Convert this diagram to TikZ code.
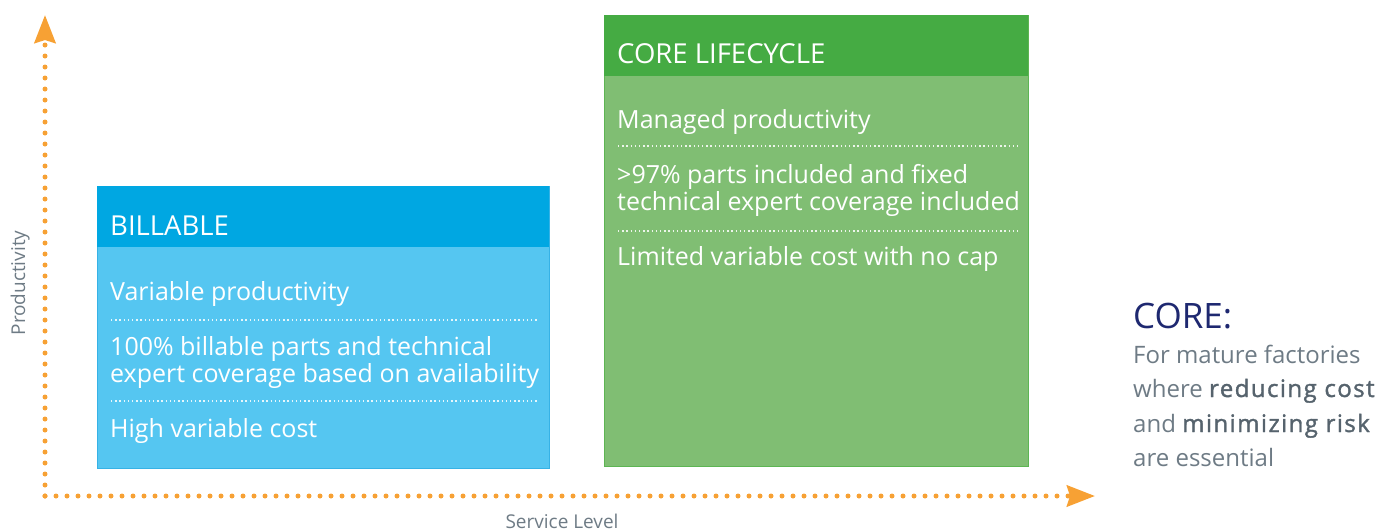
\documentclass[tikz,border=0pt]{standalone}
\usepackage{fontspec}
\setmainfont{Open Sans}
\newfontfamily\semibfont{Open Sans}[FakeBold=1.5, LetterSpace=6]
\usetikzlibrary{arrows.meta}
\definecolor{axisor}{HTML}{F7A134}
\definecolor{bluehead}{HTML}{00A7E2}
\definecolor{bluebody}{HTML}{55C6F1}
\definecolor{blueline}{HTML}{36B2E6}
\definecolor{greenhead}{HTML}{45AB43}
\definecolor{greenbody}{HTML}{80BE73}
\definecolor{greenline}{HTML}{5DB553}
\definecolor{navy}{HTML}{1E2870}
\definecolor{graytxt}{HTML}{6E7B85}
\definecolor{graydark}{HTML}{56636D}
\newcommand{\emphsemi}[1]{{\semibfont\color{graydark}#1}}
\tikzset{
  panel/.style={rectangle, anchor=north west, inner sep=0pt, line width=1pt},
  headbar/.style={rectangle, anchor=north west, inner sep=0pt, draw=none},
  headtxt/.style={anchor=base west, inner sep=0pt, text=white, font=\fontsize{27.5}{30}\selectfont},
  bodytxt/.style={anchor=base west, inner sep=0pt, text=white, font=\fontsize{25}{27}\selectfont},
  sidetxt/.style={anchor=base west, inner sep=0pt, text=graytxt, font=\fontsize{24}{28}\selectfont},
  sepline/.style={white, opacity=0.85, line width=1.3pt, dash pattern=on 1.3pt off 2.9pt},
  axisline/.style={axisor, line width=5pt, line cap=round, dash pattern=on 0pt off 11pt,
     -{Stealth[length=28pt, width=21pt, inset=3pt, line cap=butt]}},
  axislabel/.style={inner sep=0pt, text=graytxt, font=\fontsize{19}{22}\selectfont},
}
\begin{document}
\begin{tikzpicture}[x=1pt, y=-1pt]
\useasboundingbox (0,0) rectangle (1380,530);

% axes
\coordinate (origin) at (45,496);
\coordinate (ytip) at (45,15);
\coordinate (xtip) at (1095,496);
\draw[axisline] (origin) -- (ytip);
\draw[axisline] (origin) -- (xtip);
\node[axislabel, rotate=90, anchor=base] (ylab) at (25,283) {Productivity};
\node[axislabel, anchor=base] (xlab) at (562,528) {Service Level};

% BILLABLE panel
\node[panel, fill=bluebody, draw=blueline, minimum width=452pt, minimum height=282pt] (bill) at (97,186) {};
\node[headbar, fill=bluehead, minimum width=452.5pt, minimum height=61pt] (billh) at (96.5,185.5) {};
\node[headtxt] (billt) at (110,235) {BILLABLE};
\node[bodytxt] (b1) at (110,300) {Variable productivity};
\draw[sepline] (111,320) -- (537,320);
\node[bodytxt] (b2) at (110,355) {100\% billable parts and technical};
\node[bodytxt] (b2b) at (110,382) {expert coverage based on availability};
\draw[sepline] (111,401) -- (537,401);
\node[bodytxt] (b3) at (110,437) {High variable cost};

% CORE LIFECYCLE panel
\node[panel, fill=greenbody, draw=greenline, minimum width=424pt, minimum height=451pt] (core) at (604,15) {};
\node[headbar, fill=greenhead, minimum width=424.5pt, minimum height=61pt] (coreh) at (603.5,14.5) {};
\node[headtxt] (coret) at (617,63) {CORE LIFECYCLE};
\node[bodytxt] (c1) at (617,128) {Managed productivity};
\draw[sepline] (618,146) -- (1018,146);
\node[bodytxt] (c2) at (617,183) {>97\% parts included and fixed};
\node[bodytxt] (c2b) at (617,210) {technical expert coverage included};
\draw[sepline] (618,231) -- (1018,231);
\node[bodytxt] (c3) at (617,265) {Limited variable cost with no cap};

% right-hand text
\node[anchor=base west, inner sep=0pt, text=navy, font=\fontsize{35}{40}\selectfont] (coretitle) at (1133,328) {CORE:};
\node[sidetxt] (d1) at (1133,363) {For mature factories};
\node[sidetxt] (d2) at (1133,397) {where \emphsemi{reducing cost}};
\node[sidetxt] (d3) at (1133,432) {and \emphsemi{minimizing risk}};
\node[sidetxt] (d4) at (1133,466) {are essential};
\end{tikzpicture}
\end{document}
